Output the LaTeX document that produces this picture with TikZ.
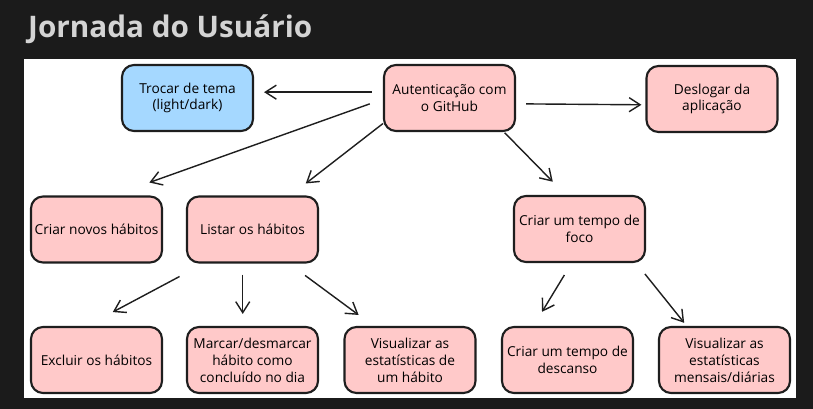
\documentclass[tikz,border=0pt]{standalone}
\usepackage{fontspec}
\setmainfont{Open Sans}
\usetikzlibrary{arrows.meta}

\definecolor{bgdark}{HTML}{1B1B1B}
\definecolor{titlegray}{HTML}{D4D4D4}
\definecolor{boxpink}{HTML}{FFC9C9}
\definecolor{boxblue}{HTML}{A5D8FF}
\definecolor{ink}{HTML}{1E1E1E}

\begin{document}
\begin{tikzpicture}[
        stepbox/.style={draw=ink, line width=1.2pt, rounded corners=0.24cm, fill=boxpink,
            minimum width=2.62cm, minimum height=1.32cm, align=center, inner sep=0pt,
            font=\fontsize{7.8}{9.6}\selectfont},
        themebox/.style={stepbox, fill=boxblue},
        flow/.style={-{Straight Barb[length=2.2mm,width=2.8mm]}, draw=ink, line width=0.8pt}
    ]
        % \tikzstyle{every node}=[font=\small];

        % background and board
        \fill[bgdark] (0,0) rectangle (16.26,-8.18);
        \fill[white] (0.48,-1.18) rectangle (15.92,-7.96);

        % title
        \node[anchor=base west, text=titlegray, font=\fontsize{16.9}{20}\selectfont\bfseries] (title) at (0.44,-0.76) {Jornada do Usuário};

        % top row
        \node[themebox] (theme) at (3.75,-1.96) {Trocar de tema\\(light/dark)};
        \node[stepbox] (auth) at (8.99,-1.96) {Autenticação com\\o GitHub};
        \node[stepbox] (logout) at (14.24,-1.98) {Deslogar da\\aplicação};

        % middle row
        \node[stepbox] (create) at (1.93,-4.59) {Criar novos hábitos};
        \node[stepbox] (list) at (5.05,-4.59) {Listar os hábitos};
        \node[stepbox] (focus) at (11.59,-4.58) {Criar um tempo de\\foco};

        % bottom row
        \node[stepbox] (delete) at (1.93,-7.2) {Excluir os hábitos};
        \node[stepbox] (mark) at (5.05,-7.2) {Marcar/desmarcar\\hábito como\\concluído no dia};
        \node[stepbox] (habitstats) at (8.2,-7.2) {Visualizar as\\estatísticas de\\um hábito};
        \node[stepbox] (rest) at (11.35,-7.2) {Criar um tempo de\\descanso};
        \node[stepbox] (periodstats) at (14.49,-7.2) {Visualizar as\\estatísticas\\mensais/diárias};

        % from authentication
        \draw[flow, shorten <=0.22cm, shorten >=0.2cm] (auth.175) -- (theme.5);
        \draw[flow, shorten <=0.2cm, shorten >=0.08cm] (auth.-5) -- (logout.185);
        \draw[flow, shorten <=0.28cm, shorten >=0.77cm] (auth.181) -- (create.64.5);
        \draw[flow, shorten >=0.39cm] (auth.201) -- (list.42);
        \draw[flow, shorten <=0.02cm, shorten >=0.37cm] (auth.-32.6) -- (focus.112);

        % from habit list
        \draw[flow, shorten <=0.55cm, shorten >=0.59cm] (list.215.5) -- (delete.106);
        \draw[flow, shorten <=0.22cm, shorten >=0.24cm] (list.254) -- (mark.106);
        \draw[flow, shorten <=0.4cm, shorten >=0.37cm] (list.317.5) -- (habitstats.137);

        % from focus time
        \draw[flow, shorten <=0.28cm, shorten >=0.33cm] (focus.257) -- (rest.135.7);
        \draw[flow, shorten <=0.28cm, shorten >=0.08cm] (focus.329) -- (periodstats.138);

    \end{tikzpicture}
\end{document}
